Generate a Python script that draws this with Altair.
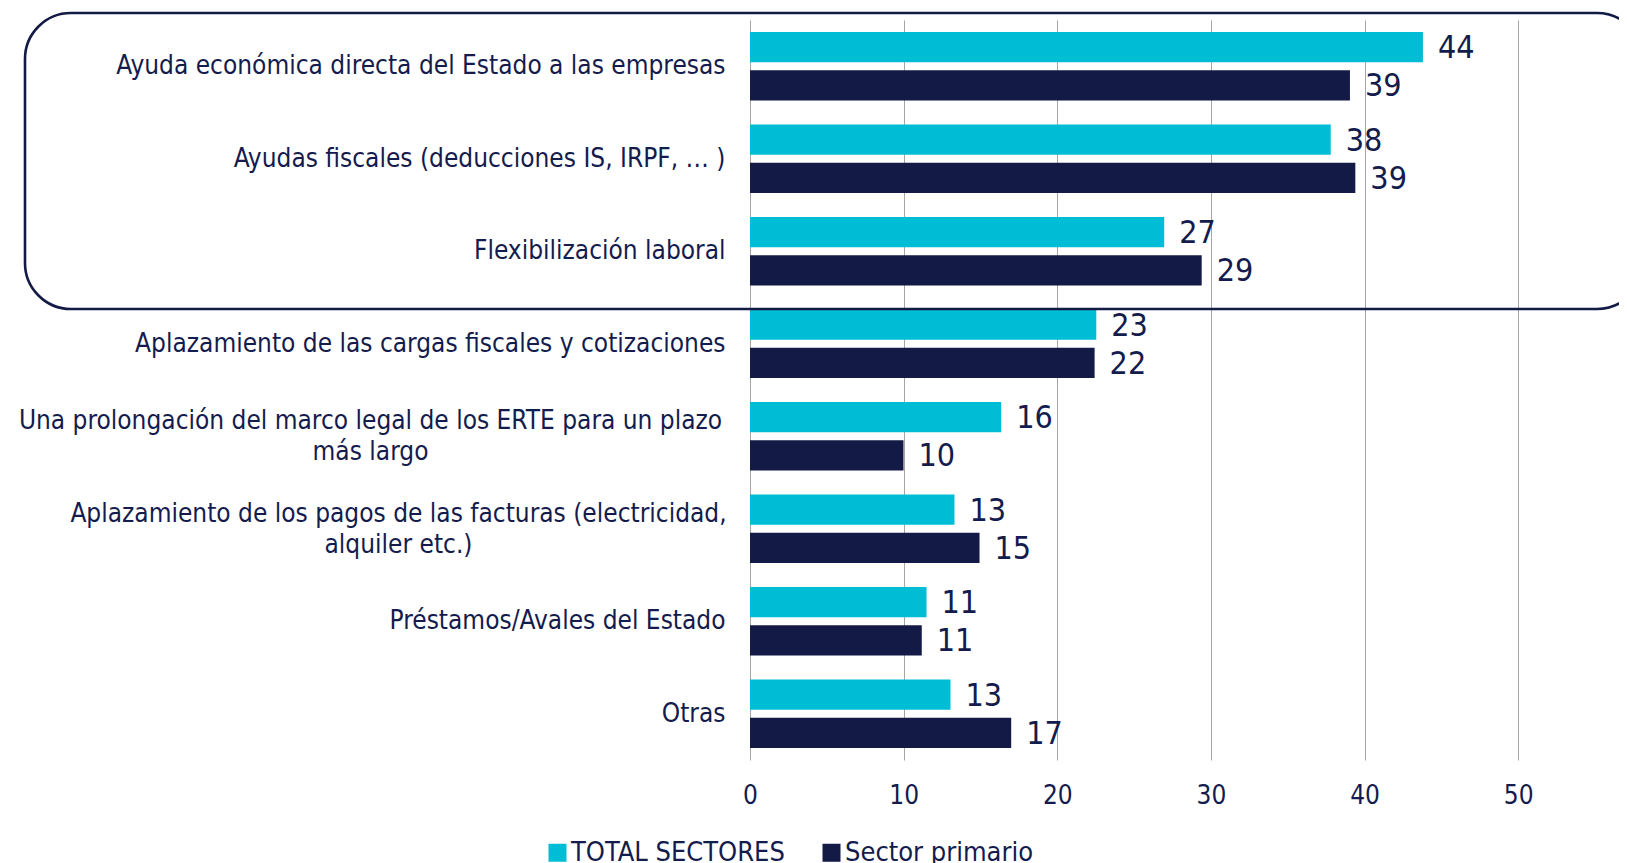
import altair as alt
import pandas as pd

categories = [
    "Ayuda económica directa del Estado a las empresas",
    "Ayudas fiscales (deducciones IS, IRPF, … )",
    "Flexibilización laboral",
    "Aplazamiento de las cargas fiscales y cotizaciones",
    "Una prolongación del marco legal de los ERTE para un plazo\nmás largo",
    "Aplazamiento de los pagos de las facturas (electricidad,\nalquiler etc.)",
    "Préstamos/Avales del Estado",
    "Otras",
]
series = ["TOTAL SECTORES", "Sector primario"]
total_sectores = [43.8, 37.8, 26.96, 22.54, 16.35, 13.31, 11.49, 13.05]
sector_primario = [39.05, 39.4, 29.4, 22.43, 9.99, 14.94, 11.18, 17.0]
x_ticks = [0, 10, 20, 30, 40, 50]

CYAN = "#00BDD6"
NAVY = "#131A45"
TEXT = "#141B4D"
FONT = "DejaVu Sans Condensed, DejaVu Sans"

rows = []
for c, a, b in zip(categories, total_sectores, sector_primario):
    rows.append({"categoria": c, "serie": series[0], "valor": a})
    rows.append({"categoria": c, "serie": series[1], "valor": b})
df = pd.DataFrame(rows)

multi = "indexof(datum.value, '\\n') >= 0"

y_enc = alt.Y(
    "categoria:N",
    sort=categories,
    scale=alt.Scale(paddingInner=0.26, paddingOuter=0.13),
    axis=alt.Axis(
        title=None,
        domain=False,
        ticks=False,
        grid=False,
        labelPadding={
            "condition": [
                {"test": "indexof(datum.value, 'ERTE') >= 0", "value": 380},
                {"test": "indexof(datum.value, 'facturas') >= 0", "value": 352},
            ],
            "value": 25,
        },
        labelAlign={"condition": {"test": multi, "value": "center"}, "value": "right"},
        labelOffset={"condition": {"test": multi, "value": -15}, "value": 0},
        labelFontSize=26,
        labelFont=FONT,
        labelColor=TEXT,
        labelLimit=1000,
        labelLineHeight=31,
        labelExpr="split(datum.label, '\\n')",
    ),
)
yoff = alt.YOffset("serie:N", sort=series, scale=alt.Scale(paddingInner=0.21))
x_enc = alt.X(
    "valor:Q",
    scale=alt.Scale(domain=[0, 55], nice=False),
    axis=alt.Axis(
        title=None,
        values=x_ticks,
        grid=True,
        gridColor="#A6A6A6",
        gridWidth=1,
        domain=False,
        ticks=False,
        tickSize=0,
        labelFlush=False,
        labelPadding=22,
        labelFontSize=26,
        labelFont=FONT,
        labelColor=TEXT,
    ),
)

bars = alt.Chart(df).mark_bar().encode(
    y=y_enc,
    yOffset=yoff,
    x=x_enc,
    color=alt.Color(
        "serie:N",
        sort=series,
        scale=alt.Scale(domain=series, range=[CYAN, NAVY]),
        legend=alt.Legend(
            title=None,
            orient="none",
            legendX=-206,
            legendY=819,
            direction="horizontal",
            columns=2,
            symbolType="square",
            symbolSize=324,
            symbolStrokeWidth=0,
            symbolOpacity=1,
            labelFontSize=27,
            labelFont=FONT,
            labelColor=TEXT,
            labelLimit=500,
            labelOffset=0,
            columnPadding=33,
        ),
    ),
)

labels = alt.Chart(df).mark_text(
    align="left", baseline="middle", dx=15, dy=1, fontSize=32, font=FONT, color=TEXT
).encode(
    y=alt.Y("categoria:N", sort=categories),
    yOffset=alt.YOffset("serie:N", sort=series),
    x=alt.X("valor:Q"),
    text=alt.Text("valor:Q", format=".0f"),
)

box = alt.Chart(pd.DataFrame({"k": [0]})).mark_rect(
    fillOpacity=0, stroke=NAVY, strokeWidth=2.6, cornerRadius=46
).encode(
    x=alt.value(-725), x2=alt.value(893), y=alt.value(-7), y2=alt.value(289)
)

chart = (
    alt.layer(bars, labels, box)
    .properties(
        width=845,
        height=740,
        background="white",
        padding={"left": 742, "top": 12, "right": 24, "bottom": 103},
        autosize=alt.AutoSizeParams(type="none"),
    )
    .configure_view(stroke=None)
)

chart.save("out.html", embed_options={"renderer": "svg", "actions": False})
